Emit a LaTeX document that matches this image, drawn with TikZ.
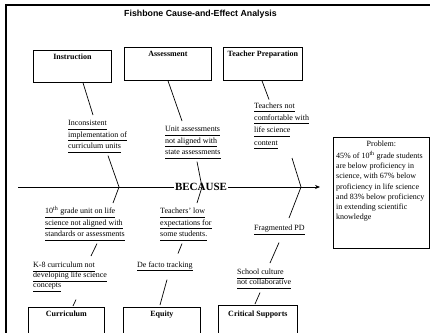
\documentclass[tikz,border=0pt]{standalone}
\usepackage{fontspec}
\setmainfont{Liberation Serif}
\newfontfamily\titlefont{Liberation Sans}
\usetikzlibrary{arrows.meta,calc}
% underlined cause line with a fixed height and depth
\newcommand\ulbl[1]{\underline{\rule{0pt}{7.5pt}#1\vphantom{gy}}}

\begin{document}
\lineskiplimit=-20pt
\begin{tikzpicture}[x=1pt,y=-1pt,
  bone/.style={line width=0.7pt},
  catbox/.style={draw, line width=0.8pt, anchor=north west, inner sep=0pt},
  cattext/.style={anchor=north, inner sep=0pt, font=\fontsize{8}{9}\selectfont\bfseries},
  cause/.style={anchor=north west, align=left, inner sep=0pt,
    font=\fontsize{8}{11.5}\selectfont},
]
\useasboundingbox (0,0) rectangle (430,332);
\clip (0,0) rectangle (430,332);

% frame
\draw[line width=2pt] (6,333) -- (6,5) -- (431,5);

% title
\node[anchor=base, inner sep=0pt, font=\titlefont\bfseries\fontsize{8.8}{10}\selectfont]
  (title) at (200.5,16.5) {Fishbone Cause-and-Effect Analysis};

% category boxes, top row
\node[catbox, minimum width=78pt, minimum height=32pt] (instr) at (33,50) {};
\node[cattext] at ([yshift=-4pt]instr.north) {Instruction};
\node[catbox, minimum width=87pt, minimum height=33pt] (assess) at (124,47) {};
\node[cattext] at ([yshift=-4pt]assess.north) {Assessment};
\node[catbox, minimum width=79pt, minimum height=33pt] (tprep) at (223,47) {};
\node[cattext] at ([yshift=-4pt]tprep.north) {Teacher Preparation};

% category boxes, bottom row
\node[catbox, minimum width=76pt, minimum height=40pt] (curr) at (28,307) {};
\node[cattext] at ([yshift=-4pt]curr.north) {Curriculum};
\node[catbox, minimum width=77pt, minimum height=40pt] (equity) at (123,307) {};
\node[cattext] at ([yshift=-4pt]equity.north) {Equity};
\node[catbox, minimum width=79pt, minimum height=42pt] (crit) at (218,305) {};
\node[cattext] at ([yshift=-6pt]crit.north) {Critical Supports};

% problem box
\node[catbox, minimum width=96pt, minimum height=111pt] (prob) at (333,137) {};
\node[anchor=north, inner sep=0pt, font=\fontsize{8}{10}\selectfont]
  at ([yshift=-4pt]prob.north) {Problem:};
\node[anchor=north west, align=left, inner sep=0pt, font=\fontsize{8}{10.3}\selectfont]
  (probtext) at ([shift={(3,14)}]prob.north west)
  {45\% of 10\textsuperscript{th} grade students\\
   are below proficiency in\\
   science, with 67\% below\\
   proficiency in life science\\
   and 83\% below proficiency\\
   in extending scientific\\
   knowledge};

% causes
\node[cause] (inc) at (68,118)
  {\ulbl{Inconsistent}\\ \ulbl{implementation of}\\ \ulbl{curriculum units}};
\node[cause] (unit) at (165,124)
  {\ulbl{Unit assessments}\\ \ulbl{not aligned with}\\ \ulbl{state assessments}};
\node[cause, font=\fontsize{8}{12.3}\selectfont] (tnc) at (254,100.5)
  {\ulbl{Teachers not}\\ \ulbl{comfortable with}\\ \ulbl{life science}\\ \ulbl{content}};
\node[cause] (tenth) at (45,206)
  {\ulbl{10\textsuperscript{th} grade unit on life}\\ \ulbl{science not aligned with}\\ \ulbl{standards or assessments}};
\node[cause, font=\fontsize{8}{10}\selectfont] (k8) at (33,260)
  {\ulbl{K-8 curriculum not}\\ \ulbl{developing life science}\\ \ulbl{concepts}};
\node[cause] (low) at (160,206)
  {\ulbl{Teachers' low}\\ \ulbl{expectations for}\\ \ulbl{some students.}};
\node[cause] (defacto) at (137,259.5) {\ulbl{De facto tracking}};
\node[cause] (frag) at (254,223) {\ulbl{Fragmented PD}};
\node[cause, font=\fontsize{8}{10}\selectfont] (school) at (237,267)
  {\ulbl{School culture}\\ \ulbl{not collaborative}};

% spine
\coordinate (tail) at (18,187);
\coordinate (j1) at (119,187);
\coordinate (j2) at (202,187);
\coordinate (j3) at (301,187);
\draw[bone, -{Stealth[length=5pt,width=4pt]}] (tail) -- ($(tail -| prob.west)+(-13,0)$);
\node[anchor=base, fill=white, inner sep=0.8pt, font=\fontsize{11}{12}\selectfont\bfseries]
  (because) at (201,190.5) {BECAUSE};

% upper bones
\draw[bone] ([shift={(50,0)}]instr.south west) -- ([shift={(25,-3)}]inc.north west);
\draw[bone] ([shift={(40,3)}]inc.south west) -- (j1);
\draw[bone] ([shift={(44,0)}]assess.south west) -- ([shift={(17,-3)}]unit.north west);
\draw[bone] ([shift={(32,3)}]unit.south west) -- (j2);
\draw[bone] ([shift={(39,0)}]tprep.south west) -- ([shift={(15,-1)}]tnc.north west);
\draw[bone] ([shift={(38,9)}]tnc.south west) -- (j3);

% lower bones
\draw[bone] (j1) -- ([shift={(68,-3)}]tenth.north west);
\draw[bone] ([shift={(52,3)}]tenth.south west) -- ([shift={(58,-4)}]k8.north west);
\draw[bone] ([shift={(43,8)}]k8.south west) -- ([shift={(45,-1)}]curr.north west);
\draw[bone] (j2) -- ([shift={(37,-3)}]low.north west);
\draw[bone] ([shift={(22,3)}]low.south west) -- ([shift={(41,-6)}]defacto.north west);
\draw[bone] ([shift={(30,8.5)}]defacto.south west) -- ([shift={(37,-2)}]equity.north west);
\draw[bone] (j3) -- ([shift={(35,-5)}]frag.north west);
\draw[bone] ([shift={(25,8)}]frag.south west) -- ([shift={(33,-4)}]school.north west);
\draw[bone] ([shift={(23,4)}]school.south west) -- ([shift={(37,-1)}]crit.north west);
\end{tikzpicture}
\end{document}
